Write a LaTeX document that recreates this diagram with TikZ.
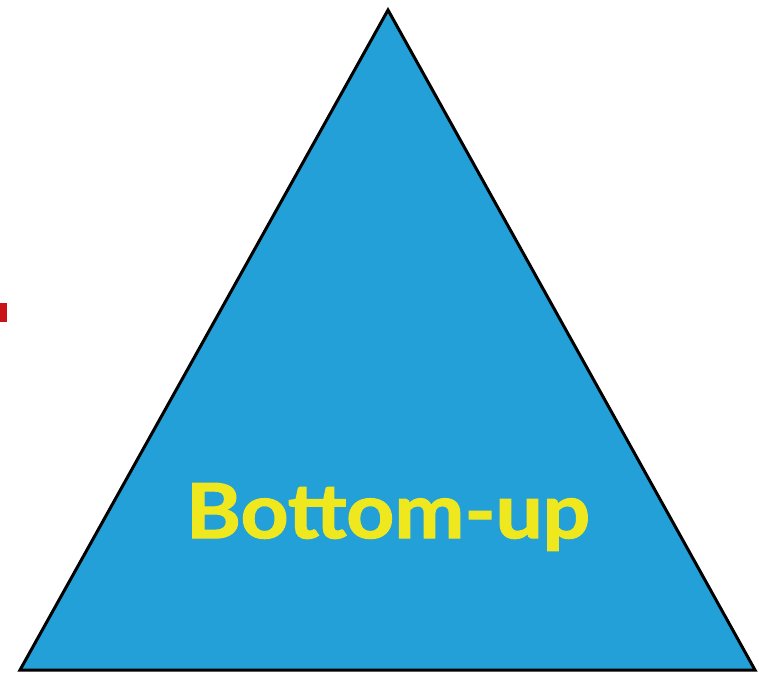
\documentclass[tikz,border=0pt]{standalone}
\usepackage{fontspec}
\newfontfamily\labelfont[FakeBold=1.6]{Lato}
\definecolor{triblue}{RGB}{35,160,215}
\definecolor{txtyellow}{RGB}{240,232,30}
\definecolor{markred}{RGB}{200,20,25}
\begin{document}
\begin{tikzpicture}[x=1pt,y=-1pt,
  tri/.style={fill=triblue,draw=black,line width=3pt,line join=miter},
  lbl/.style={text=txtyellow,font=\labelfont\bfseries\fontsize{76}{80}\selectfont,inner sep=0pt,xscale=1.1}]
\useasboundingbox (0,0) rectangle (759,675);
\fill[markred] (0,303) rectangle (7,322);
\coordinate (apex) at (388,10);
\coordinate (bl) at (20,670);
\coordinate (br) at (755,670);
\draw[tri] (apex) -- (br) -- (bl) -- cycle;
\node[lbl] (label) at (388,517) {Bottom-up};
\end{tikzpicture}
\end{document}
